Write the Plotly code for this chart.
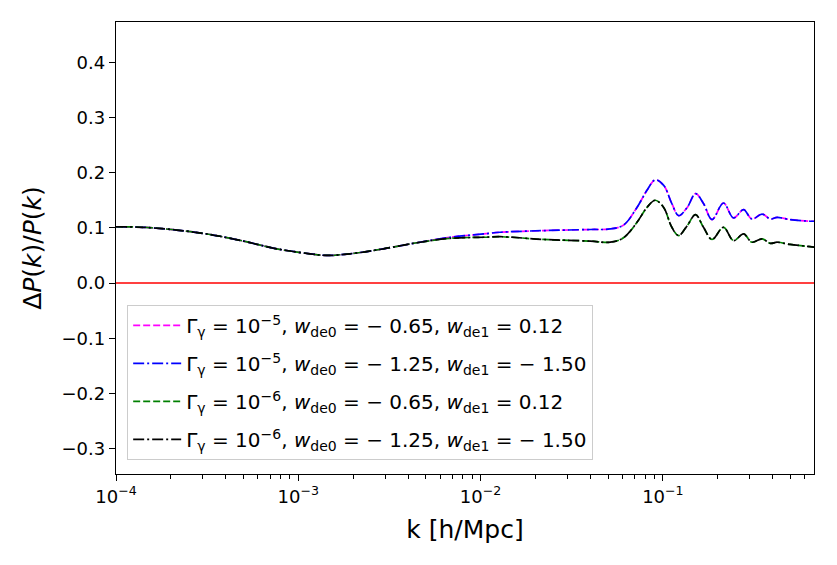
import plotly.graph_objects as go

# wavenumbers k [h/Mpc]
k_vals = [1.0e-4, 1.41e-4, 2.15e-4, 3.28e-4, 5.0e-4, 7.62e-4, 1.16e-3, 1.43e-3, 1.92e-3,
          2.93e-3, 4.47e-3, 6.81e-3, 1.04e-2, 1.28e-2, 2.21e-2, 4.0e-2, 5.14e-2, 6.08e-2,
          7.21e-2, 8.18e-2, 9.08e-2, 0.101, 0.112, 0.122, 0.136, 0.151, 0.167, 0.186,
          0.215, 0.244, 0.277, 0.308, 0.350, 0.389, 0.423, 0.498, 0.641, 0.675]

# Gamma = 1e-5 models
dpk_g5_w065 = [0.102, 0.101, 0.096, 0.088, 0.076, 0.062, 0.053, 0.050, 0.053,
               0.062, 0.073, 0.083, 0.089, 0.092, 0.095, 0.097, 0.098, 0.105,
               0.137, 0.168, 0.187, 0.177, 0.144, 0.122, 0.137, 0.162, 0.144, 0.115,
               0.145, 0.118, 0.133, 0.116, 0.125, 0.116, 0.119, 0.115, 0.112, 0.112]
dpk_g5_w125 = list(dpk_g5_w065)

# Gamma = 1e-6 models
dpk_g6_w065 = [0.102, 0.101, 0.096, 0.088, 0.076, 0.062, 0.053, 0.050, 0.053,
               0.062, 0.073, 0.081, 0.083, 0.084, 0.079, 0.076, 0.074, 0.082,
               0.110, 0.137, 0.150, 0.137, 0.101, 0.086, 0.104, 0.124, 0.101, 0.079,
               0.101, 0.077, 0.089, 0.074, 0.080, 0.072, 0.074, 0.070, 0.066, 0.065]
dpk_g6_w125 = list(dpk_g6_w065)

labels = [
    "Γ<sub>γ</sub> = 10<sup>−5</sup>, <i>w</i><sub>de0</sub> = − 0.65, <i>w</i><sub>de1</sub> = 0.12",
    "Γ<sub>γ</sub> = 10<sup>−5</sup>, <i>w</i><sub>de0</sub> = − 1.25, <i>w</i><sub>de1</sub> = − 1.50",
    "Γ<sub>γ</sub> = 10<sup>−6</sup>, <i>w</i><sub>de0</sub> = − 0.65, <i>w</i><sub>de1</sub> = 0.12",
    "Γ<sub>γ</sub> = 10<sup>−6</sup>, <i>w</i><sub>de0</sub> = − 1.25, <i>w</i><sub>de1</sub> = − 1.50",
]
series = [dpk_g5_w065, dpk_g5_w125, dpk_g6_w065, dpk_g6_w125]
colors = ["magenta", "blue", "green", "black"]
dashes = ["7px,3px", "11px,3px,2px,3px", "7px,3px", "11px,3px,2px,3px"]

x_tickvals = [1e-4, 1e-3, 1e-2, 1e-1]
x_ticktext = ["10<sup>−4</sup>", "10<sup>−3</sup>", "10<sup>−2</sup>", "10<sup>−1</sup>"]
minor_vals = [m * d for d in [1e-4, 1e-3, 1e-2, 1e-1] for m in range(2, 10)]

fig = go.Figure()
for i, (y, c, d, lab) in enumerate(zip(series, colors, dashes, labels)):
    fig.add_trace(go.Scatter(x=k_vals, y=y, mode="lines", name=lab, legendgroup=f"g{i}",
                             line=dict(color=c, width=1.7, dash=d, shape="spline", smoothing=1.0)))

fig.add_hline(y=0, line=dict(color="red", width=1.5))

font = "DejaVu Sans"
fig.update_layout(
    width=837, height=565,
    margin=dict(l=116, r=23, t=22, b=91),
    paper_bgcolor="white", plot_bgcolor="white",
    font=dict(family=font, color="black", size=17),
    legend=dict(x=0.016, y=0.374, xanchor="left", yanchor="top",
                bgcolor="rgba(255,255,255,0.8)", bordercolor="#cccccc", borderwidth=1,
                font=dict(size=20, family=font), tracegroupgap=9, itemwidth=48),
    showlegend=True,
)
fig.update_xaxes(
    type="log", range=[-4, -0.171],
    tickvals=x_tickvals, ticktext=x_ticktext,
    ticks="outside", ticklen=6, tickwidth=1.2, tickcolor="black",
    minor=dict(tickvals=minor_vals, ticks="outside", ticklen=3.5, tickwidth=1, tickcolor="black"),
    showline=True, linecolor="black", linewidth=1.3, mirror=True,
    showgrid=False, zeroline=False,
    tickfont=dict(size=18),
    title=dict(text="k [h/Mpc]", font=dict(size=25), standoff=14),
)
fig.update_yaxes(
    range=[-0.346, 0.473],
    tickvals=[-0.3, -0.2, -0.1, 0.0, 0.1, 0.2, 0.3, 0.4], tickformat=".1f",
    ticks="outside", ticklen=6, tickwidth=1.2, tickcolor="black",
    showline=True, linecolor="black", linewidth=1.3, mirror=True,
    showgrid=False, zeroline=False,
    tickfont=dict(size=18),
    title=dict(text="Δ<i>P</i>(<i>k</i>)/<i>P</i>(<i>k</i>)", font=dict(size=25), standoff=12),
)

fig.write_html("out.html")
